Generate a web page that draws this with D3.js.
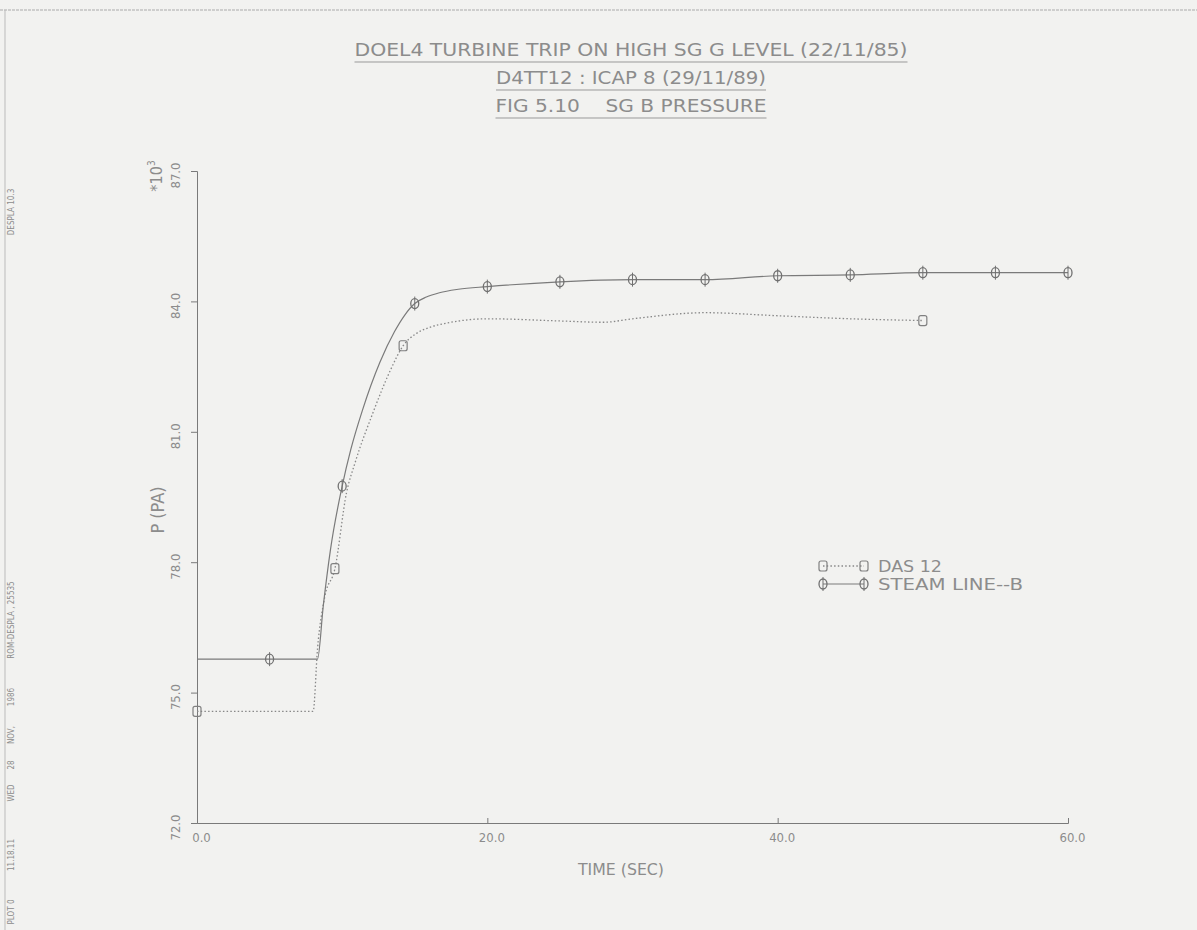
<!DOCTYPE html>
<html>
<head>
<meta charset="utf-8">
<script src="https://cdn.jsdelivr.net/npm/d3@7/dist/d3.min.js"></script>
<style>
  html, body { margin: 0; padding: 0; background: #f2f2f0; }
  svg { display: block; }
  text { font-family: "DejaVu Sans Condensed", "DejaVu Sans", sans-serif; fill: #8c8c8c; white-space: pre; }
</style>
</head>
<body>
<svg id="chart" width="1197" height="930"></svg>
<script>
// Time axis (s) and pressure (kPa, plotted as *10^3 Pa)
const xTicks = [0, 20, 40, 60];
const xTickLabels = ["0.0", "20.0", "40.0", "60.0"];
const yTicks = [72, 75, 78, 81, 84, 87];
const yTickLabels = ["72.0", "75.0", "78.0", "81.0", "84.0", "87.0"];

const titles = [
  "DOEL4 TURBINE TRIP ON HIGH SG G LEVEL (22/11/85)",
  "D4TT12 : ICAP 8 (29/11/89)",
  "FIG 5.10    SG B PRESSURE"
];
const seriesNames = ["DAS 12", "STEAM LINE--B"];

// DAS 12 measurement
const dasTime = [0, 8.0, 8.3, 8.8, 9.5, 10.3, 10.9, 12.1, 13.3, 14.2, 15.1, 16.0, 17.2, 20, 25, 28, 30, 35, 40, 45, 50];
const dasValue = [74.57, 74.57, 76.0, 77.2, 77.85, 79.6, 80.3, 81.42, 82.4, 82.98, 83.26, 83.40, 83.50, 83.60, 83.55, 83.52, 83.60, 83.74, 83.67, 83.60, 83.56];
const dasMarkTimes = [0, 9.5, 14.2, 50];

// Steam line B calculation
const steamTime = [0, 5, 8.3, 8.7, 9.2, 10, 10.6, 11.4, 12.6, 13.6, 14.3, 15, 15.8, 16.7, 18, 20, 25, 30, 35, 40, 45, 50, 55, 60];
const steamValue = [75.77, 75.77, 75.77, 77.0, 78.3, 79.75, 80.6, 81.5, 82.6, 83.3, 83.68, 83.95, 84.10, 84.20, 84.28, 84.34, 84.45, 84.50, 84.50, 84.59, 84.61, 84.66, 84.66, 84.66];
const steamMarkTimes = [5, 10, 15, 20, 25, 30, 35, 40, 45, 50, 55, 60];

// Footer strip along the left margin
const marginNotes = [
  { text: "DESPLA 10.3", y: 212 },
  { text: "ROM-DESPLA , 25535", y: 620 },
  { text: "1986", y: 697 },
  { text: "NOV,", y: 735 },
  { text: "28", y: 765 },
  { text: "WED", y: 793 },
  { text: "11.18.11", y: 855 },
  { text: "PLOT 0", y: 912 }
];

const ink = "#7a7a7a";
const svg = d3.select("#chart");

const x = d3.scaleLinear().domain([0, 60]).range([197, 1068]);
const y = d3.scaleLinear().domain([72, 87]).range([823, 171]);

// page frame lines
svg.append("line").attr("x1", 0).attr("x2", 1197).attr("y1", 10).attr("y2", 10)
  .attr("stroke", "#aaa").attr("stroke-width", 1).attr("stroke-dasharray", "3,1");
svg.append("line").attr("x1", 5).attr("x2", 5).attr("y1", 10).attr("y2", 930)
  .attr("stroke", "#bbb").attr("stroke-width", 1);

// titles (underlined)
const titleY = [56, 84, 112];
const titleW = [553, 270, 271];
titles.forEach((t, i) => {
  const cx = 631;
  svg.append("text").attr("x", cx).attr("y", titleY[i]).attr("text-anchor", "middle")
    .attr("font-size", 18).attr("textLength", titleW[i]).attr("lengthAdjust", "spacingAndGlyphs")
    .text(t);
  svg.append("line").attr("x1", cx - titleW[i] / 2).attr("x2", cx + titleW[i] / 2)
    .attr("y1", titleY[i] + 6).attr("y2", titleY[i] + 6)
    .attr("stroke", "#999").attr("stroke-width", 1);
});

// axes
const xAxis = d3.axisBottom(x).tickValues(xTicks).tickSize(-5).tickFormat((d, i) => xTickLabels[i]);
const gx = svg.append("g").attr("transform", "translate(0,823)").call(xAxis);
gx.select(".domain").attr("stroke", ink);
gx.selectAll(".tick line").attr("stroke", ink);
gx.selectAll(".tick text").attr("fill", "#8c8c8c").attr("font-size", 13).attr("dy", "1.2em").attr("dx", 4)
  .style("font-family", "\"DejaVu Sans Condensed\", sans-serif");

const yAxis = d3.axisLeft(y).tickValues(yTicks).tickSize(6).tickFormat((d, i) => yTickLabels[i]);
const gy = svg.append("g").attr("transform", "translate(197,0)").call(yAxis);
gy.select(".domain").attr("stroke", ink);
gy.selectAll(".tick line").attr("stroke", ink);
gy.selectAll(".tick text")
  .attr("fill", "#8c8c8c").attr("font-size", 13)
  .attr("x", 0).attr("y", 0).attr("dy", 0)
  .attr("text-anchor", "middle")
  .attr("transform", "translate(-17,4) rotate(-90)")
  .style("font-family", "\"DejaVu Sans Condensed\", sans-serif");

// axis titles
svg.append("text").attr("x", 621).attr("y", 875).attr("text-anchor", "middle")
  .attr("font-size", 15).attr("textLength", 86).attr("lengthAdjust", "spacingAndGlyphs").text("TIME (SEC)");
svg.append("text").attr("transform", "translate(164,510) rotate(-90)").attr("text-anchor", "middle")
  .attr("font-size", 18).text("P (PA)");
const mult = svg.append("text").attr("transform", "translate(162,176) rotate(-90)").attr("text-anchor", "middle")
  .attr("font-size", 16);
mult.append("tspan").text("*10");
mult.append("tspan").attr("dy", -7).attr("font-size", 10).text("3");

// series
const dasData = dasTime.map((t, i) => ({ t, v: dasValue[i] }));
const steamData = steamTime.map((t, i) => ({ t, v: steamValue[i] }));
const line = d3.line().x(d => x(d.t)).y(d => y(d.v)).curve(d3.curveMonotoneX);

svg.append("path").datum(dasData).attr("d", line).attr("fill", "none")
  .attr("stroke", "#888").attr("stroke-width", 1.3).attr("stroke-dasharray", "1.5,2.2");
svg.append("path").datum(steamData).attr("d", line).attr("fill", "none")
  .attr("stroke", ink).attr("stroke-width", 1.2);

function squareMark(g, cx, cy) {
  g.append("rect").attr("x", cx - 4).attr("y", cy - 5).attr("width", 8).attr("height", 10)
    .attr("rx", 2).attr("fill", "none").attr("stroke", "#808080").attr("stroke-width", 1.2);
}
function circleMark(g, cx, cy) {
  g.append("ellipse").attr("cx", cx).attr("cy", cy).attr("rx", 4).attr("ry", 5)
    .attr("fill", "none").attr("stroke", "#707070").attr("stroke-width", 1.3);
  g.append("line").attr("x1", cx).attr("x2", cx).attr("y1", cy - 7).attr("y2", cy + 7)
    .attr("stroke", "#707070").attr("stroke-width", 1);
}

const marks = svg.append("g");
dasData.filter(d => dasMarkTimes.includes(d.t)).forEach(d => squareMark(marks, x(d.t), y(d.v)));
steamData.filter(d => steamMarkTimes.includes(d.t)).forEach(d => circleMark(marks, x(d.t), y(d.v)));

// legend
const legY = [566, 584];
const lg = svg.append("g");
lg.append("line").attr("x1", 823).attr("x2", 864).attr("y1", legY[0]).attr("y2", legY[0])
  .attr("stroke", "#888").attr("stroke-width", 1.3).attr("stroke-dasharray", "1.5,2.2");
squareMark(lg, 823, legY[0]); squareMark(lg, 864, legY[0]);
lg.append("line").attr("x1", 823).attr("x2", 864).attr("y1", legY[1]).attr("y2", legY[1])
  .attr("stroke", ink).attr("stroke-width", 1.2);
circleMark(lg, 823, legY[1]); circleMark(lg, 864, legY[1]);
lg.append("text").attr("x", 878).attr("y", legY[0] + 6).attr("font-size", 16)
  .attr("textLength", 64).attr("lengthAdjust", "spacingAndGlyphs").text(seriesNames[0]);
lg.append("text").attr("x", 878).attr("y", legY[1] + 6).attr("font-size", 16)
  .attr("textLength", 145).attr("lengthAdjust", "spacingAndGlyphs").text(seriesNames[1]);

// margin notes
marginNotes.forEach(n => {
  svg.append("text").attr("transform", `translate(14,${n.y}) rotate(-90)`).attr("text-anchor", "middle")
    .attr("font-size", 8).attr("fill", "#9a9a9a").text(n.text);
});
</script>
</body>
</html>
